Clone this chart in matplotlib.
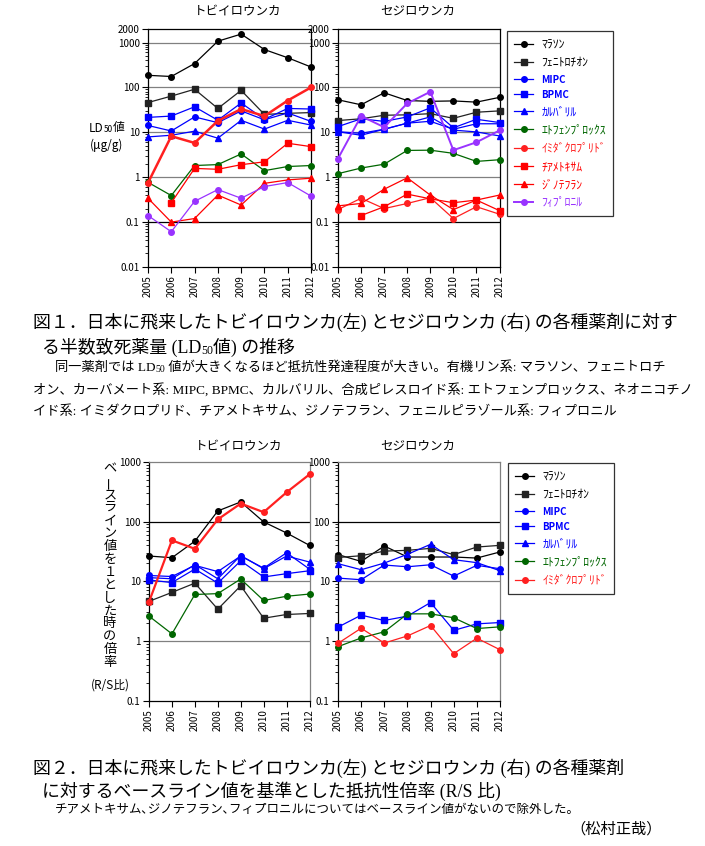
import numpy as np
import matplotlib.pyplot as plt
from matplotlib.text import Annotation
from matplotlib.ticker import FixedLocator, NullFormatter

plt.rcParams['font.family'] = ['Noto Sans CJK JP', 'DejaVu Sans']

years = [2005, 2006, 2007, 2008, 2009, 2010, 2011, 2012]
nan = np.nan

# 図1 LD50値 (μg/g) : トビイロウンカ
bph_malathion = [186, 175, 340, 1070, 1540, 697, 458, 285]
bph_fenitrothion = [46, 64, 91, 34, 86, 25, 26.5, 27.5]
bph_mipc = [14.2, 10.7, 22, 16.4, 30, 19, 27, 17.5]
bph_bpmc = [21.5, 23, 37, 18.6, 45, 19.5, 34, 33]
bph_carbaryl = [7.9, 8.6, 10.6, 7.4, 18.5, 11.8, 18.5, 14.5]
bph_etofenprox = [0.77, 0.39, 1.82, 1.91, 3.3, 1.4, 1.73, 1.82]
bph_imidacloprid = [0.75, 8.2, 5.8, 18, 33, 23, 51, 100]
bph_thiamethoxam = [nan, 0.27, 1.57, 1.5, 1.9, 2.2, 5.7, 4.8]
bph_dinotefuran = [0.34, 0.1, 0.12, 0.4, 0.24, 0.73, 0.87, 0.95]
bph_fipronil = [0.14, 0.061, 0.29, 0.53, 0.34, 0.62, 0.76, 0.38]

# 図1 : セジロウンカ
wbph_malathion = [53, 41, 76, 51, 49, 50, 47, 60]
wbph_fenitrothion = [18.3, 20, 24, 24.5, 26, 20.5, 28, 30]
wbph_mipc = [10.3, 9.5, 11.7, 16, 17.6, 11.7, 15.5, 15.5]
wbph_bpmc = [13.4, 20, 17.5, 22, 35, 12.6, 19.5, 16.5]
wbph_carbaryl = [10.3, 8.6, 11.7, 16, 22, 11.2, 10.2, 8.3]
wbph_etofenprox = [1.2, 1.6, 1.95, 3.95, 4.0, 3.4, 2.25, 2.45]
wbph_imidacloprid = [0.19, 0.34, 0.2, 0.26, 0.35, 0.12, 0.22, 0.15]
wbph_thiamethoxam = [nan, 0.14, 0.22, 0.42, 0.33, 0.27, 0.31, 0.18]
wbph_dinotefuran = [0.23, 0.26, 0.54, 0.97, 0.4, 0.19, 0.31, 0.4]
wbph_fipronil = [2.6, 23, 13, 44, 80, 4.0, 6.0, 11]

# 図2 R/S比 : トビイロウンカ
bph_rs_malathion = [26.5, 24.8, 47, 151, 214, 99, 64.5, 40]
bph_rs_fenitrothion = [4.6, 6.5, 9.3, 3.4, 8.4, 2.4, 2.77, 2.88]
bph_rs_mipc = [12.5, 12.0, 18.5, 14.5, 26.5, 16.6, 30, 16]
bph_rs_bpmc = [10.5, 9.5, 16, 9.3, 22, 11.8, 13.4, 15]
bph_rs_carbaryl = [11.5, 11, 19, 11, 27, 16.2, 26.5, 21]
bph_rs_etofenprox = [2.6, 1.31, 6.0, 6.2, 10.9, 4.76, 5.6, 6.1]
bph_rs_imidacloprid = [4.5, 48.5, 35, 109, 201, 144, 310, 620]

# 図2 : セジロウンカ
wbph_rs_malathion = [28, 21.5, 39, 25.5, 25.5, 25.5, 24.5, 31]
wbph_rs_fenitrothion = [25, 26.8, 32, 33, 35.6, 28, 37.5, 40]
wbph_rs_mipc = [11.3, 10.6, 18.7, 17.5, 18.9, 12.2, 18.5, 16.2]
wbph_rs_bpmc = [1.7, 2.7, 2.2, 2.6, 4.4, 1.5, 1.93, 2.03]
wbph_rs_carbaryl = [19.7, 15.6, 20.2, 28.3, 41.6, 23, 20.5, 15]
wbph_rs_etofenprox = [0.8, 1.12, 1.42, 2.84, 2.84, 2.44, 1.61, 1.72]
wbph_rs_imidacloprid = [0.91, 1.63, 0.92, 1.21, 1.81, 0.61, 1.11, 0.71]

labels = ['ﾏﾗｿﾝ', 'ﾌｪﾆﾄﾛﾁｵﾝ', 'MIPC', 'BPMC', 'ｶﾙﾊﾞﾘﾙ', 'ｴﾄﾌｪﾝﾌﾟﾛｯｸｽ',
          'ｲﾐﾀﾞｸﾛﾌﾟﾘﾄﾞ', 'ﾁｱﾒﾄｷｻﾑ', 'ｼﾞﾉﾃﾌﾗﾝ', 'ﾌｨﾌﾟﾛﾆﾙ']

# 色, マーカー, 文字色
styles = [('black', 'o', 'black'), ('#222222', 's', 'black'), ('#0000FF', 'o', '#0000FF'),
          ('#0000FF', 's', '#0000FF'), ('#0000FF', '^', '#0000FF'), ('#006600', 'o', '#006600'),
          ('#FF2020', 'o', '#FF2020'), ('#FF0000', 's', '#FF0000'), ('#FF0000', '^', '#FF0000'),
          ('#9933FF', 'o', '#9933FF')]
msize = {'o': 4.0, 's': 4.3, '^': 4.5}

W, H = 705, 846
fig = plt.figure(figsize=(7.05, 8.46), dpi=100)


def fx(px):
    return px / W


def fy(py):
    return 1 - py / H


def panel(x0, x1, y0, y1, series, ylim, majors, gridcol, edge, thick=None):
    ax = fig.add_axes([fx(x0), fy(y1), fx(x1 - x0), (y1 - y0) / H])
    ax.set_yscale('log')
    for i, vals in enumerate(series):
        col, mk, _ = styles[i]
        lw = 0.9
        if thick is not None and i in thick:
            lw = thick[i]
        ax.plot(years, vals, color=col, marker=mk, ms=msize[mk], lw=lw,
                clip_on=False, label=labels[i], zorder=3)
    ax.set_xlim(2005, 2012)
    ax.set_ylim(*ylim)
    for v, c in gridcol.items():
        ax.axhline(v, color=c, lw=0.9, zorder=1)
    ax.yaxis.set_major_locator(FixedLocator(majors))
    ax.set_yticklabels([('%g' % m) for m in majors])
    mins = [d * k for d in [0.001, 0.01, 0.1, 1, 10, 100] for k in range(2, 10)]
    mins = [m for m in mins if ylim[0] < m < ylim[1] and m not in majors]
    ax.yaxis.set_minor_locator(FixedLocator(mins))
    ax.yaxis.set_minor_formatter(NullFormatter())
    ax.set_xticks(years)
    ax.set_xticklabels([str(y) for y in years], rotation=90)
    ax.tick_params(axis='both', which='major', labelsize=7, length=4, width=0.8, pad=2)
    ax.tick_params(axis='y', which='minor', length=2.5, width=0.6)
    ax.tick_params(axis='x', which='minor', length=0)
    for s in ['left', 'bottom']:
        ax.spines[s].set_color('black')
        ax.spines[s].set_linewidth(0.9)
    for s in ['top', 'right']:
        ax.spines[s].set_color(edge)
        ax.spines[s].set_linewidth(0.9)
    return ax


g = '#808080'
fig1_left = [bph_malathion, bph_fenitrothion, bph_mipc, bph_bpmc, bph_carbaryl,
             bph_etofenprox, bph_imidacloprid, bph_thiamethoxam, bph_dinotefuran, bph_fipronil]
fig1_right = [wbph_malathion, wbph_fenitrothion, wbph_mipc, wbph_bpmc, wbph_carbaryl,
              wbph_etofenprox, wbph_imidacloprid, wbph_thiamethoxam, wbph_dinotefuran, wbph_fipronil]
fig2_left = [bph_rs_malathion, bph_rs_fenitrothion, bph_rs_mipc, bph_rs_bpmc, bph_rs_carbaryl,
             bph_rs_etofenprox, bph_rs_imidacloprid]
fig2_right = [wbph_rs_malathion, wbph_rs_fenitrothion, wbph_rs_mipc, wbph_rs_bpmc, wbph_rs_carbaryl,
              wbph_rs_etofenprox, wbph_rs_imidacloprid]

maj1 = [0.01, 0.1, 1, 10, 100, 1000, 2000]
grid1 = {1000: g, 100: g, 10: g, 1: g, 0.1: 'black'}
maj2 = [0.1, 1, 10, 100, 1000]
grid2 = {100: 'black', 10: g, 1: g}

a1 = panel(148, 311, 29, 267, fig1_left, (0.01, 2000), maj1, grid1, 'black', thick={6: 1.8})
a2 = panel(338, 499.5, 29, 267, fig1_right, (0.01, 2000), maj1, grid1, 'black', thick={9: 1.4})
a3 = panel(149, 309.5, 462, 700.5, fig2_left, (0.1, 1000), maj2, grid2, g, thick={6: 1.6})
a4 = panel(338, 500, 462, 700.5, fig2_right, (0.1, 1000), maj2, grid2, g)

# パネルタイトル
for x, y, s in [(238, 11, 'トビイロウンカ'), (418, 11, 'セジロウンカ'),
                (239, 446, 'トビイロウンカ'), (418, 446, 'セジロウンカ')]:
    fig.text(fx(x), fy(y), s, fontsize=9, ha='center', va='center')


def legend(ax, x, y):
    h, l = ax.get_legend_handles_labels()
    leg = fig.legend(h, l, loc='upper left', bbox_to_anchor=(fx(x), fy(y)), fontsize=8.5,
                     frameon=True, fancybox=False, edgecolor='black', handlelength=1.6,
                     handletextpad=0.7, labelspacing=0.44, borderpad=0.6, borderaxespad=0)
    leg.get_frame().set_linewidth(0.9)
    for i, t in enumerate(leg.get_texts()):
        t.set_color(styles[i][2])
        if l[i] in ('MIPC', 'BPMC'):
            t.set_fontsize(7)
            t.set_fontweight('bold')
    return leg


legend(a2, 507, 31)
legend(a4, 508, 463)


def rich(x, y, parts, size, sub_size, family=None):
    # parts: (文字列, 下付きかどうか)
    kw = {}
    if family is not None:
        kw['family'] = family
    base = fig.text(fx(x), fy(y), parts[0][0], fontsize=size, ha='left', va='center', **kw)
    prev = base
    for s, sub in parts[1:]:
        t = Annotation(s, xy=(1, 0), xycoords=(prev, base), ha='left', va='bottom',
                       fontsize=sub_size if sub else size, annotation_clip=False, **kw)
        fig.add_artist(t)
        prev = t
    return base


# 図1 の縦軸ラベル
rich(89, 128, [('LD', False), ('50', True), ('値', False)], 8.5, 6)
fig.text(fx(90), fy(145), '(μg/g)', fontsize=8.5, ha='left', va='center')

# 図2 の縦軸ラベル (縦書き)
vlabel = 'ベースライン値を１とした時の倍率'
for i, ch in enumerate(vlabel):
    rot = 90 if ch == 'ー' else 0
    fig.text(fx(110), fy(469 + i * 12.9), ch, fontsize=9.5, ha='center', va='center', rotation=rot)
fig.text(fx(110), fy(685), '(R/S比)', fontsize=8.5, ha='center', va='center')

serif = ['Liberation Serif', 'Noto Sans CJK JP']
cap = 12.9
body = 9.5

fig.text(fx(33), fy(322), '図１．日本に飛来したトビイロウンカ(左) とセジロウンカ (右) の各種薬剤に対す',
         fontsize=cap, va='center', family=serif)
rich(42, 347, [('る半数致死薬量 (LD', False), ('50', True), ('値) の推移', False)], cap, 8.5, serif)
rich(55, 368, [('同一薬剤では LD', False), ('50', True),
               (' 値が大きくなるほど抵抗性発達程度が大きい。有機リン系: マラソン、フェニトロチ', False)],
     body, 7, serif)
fig.text(fx(33), fy(390), 'オン、カーバメート系: MIPC, BPMC、カルバリル、合成ピレスロイド系: エトフェンプロックス、ネオニコチノ',
         fontsize=body, va='center', family=serif)
fig.text(fx(33), fy(412), 'イド系: イミダクロプリド、チアメトキサム、ジノテフラン、フェニルピラゾール系: フィプロニル',
         fontsize=body, va='center', family=serif)

fig.text(fx(33), fy(768), '図２．日本に飛来したトビイロウンカ(左) とセジロウンカ (右) の各種薬剤',
         fontsize=cap, va='center', family=serif)
fig.text(fx(42), fy(791), 'に対するベースライン値を基準とした抵抗性倍率 (R/S 比)',
         fontsize=cap, va='center', family=serif)
fig.text(fx(55), fy(810), 'チアメトキサム､ジノテフラン､フィプロニルについてはベースライン値がないので除外した。',
         fontsize=9, va='center', family=serif)
fig.text(fx(662), fy(829), '（松村正哉）', fontsize=11, ha='right', va='center', family=serif)

fig.savefig('out.png', dpi=100)
